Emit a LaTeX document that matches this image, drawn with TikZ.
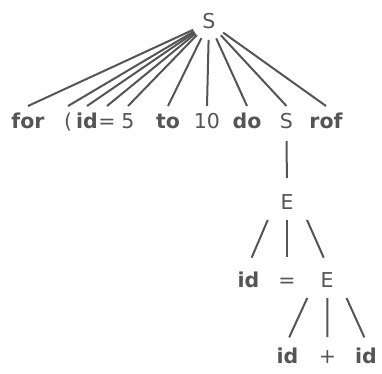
\documentclass[tikz,border=0pt]{standalone}
\usepackage{fontspec}
\setmainfont{DejaVu Sans}
\usetikzlibrary{calc}
\definecolor{treegray}{HTML}{555555}
\begin{document}
\begin{tikzpicture}[x=1pt,y=-1pt,color=treegray,line width=2pt,
    lbl/.style={font=\fontsize{20.5}{24}\selectfont,text height=15pt,text depth=4pt,inner sep=6pt,anchor=base},
    kw/.style={lbl,font=\fontsize{20.5}{24}\selectfont\bfseries},
    branch/.style={shorten >=8pt}]
            \useasboundingbox (0,0) rectangle (382,373);
            % root
            \node[lbl,circle,inner sep=3.5pt] (s0) at (209,28) {S};
            % first level
            \node[kw] (tfor) at (28,128) {for};
            \node[lbl] (tlp) at (68,128) {(};
            \node[kw] (tid) at (87,128) {id};
            \node[lbl] (teq) at (107,128) {=};
            \node[lbl] (tfive) at (128,128) {5};
            \node[kw] (tto) at (168,128) {to};
            \node[lbl] (tten) at (207,128) {10};
            \node[kw] (tdo) at (247,128) {do};
            \node[lbl] (s1) at (286.5,128) {S};
            \node[kw] (trof) at (326,128) {rof};
            \draw (s0) -- (tfor.north);
            \draw (s0) -- (tlp.north);
            \draw (s0) -- (tid.north);
            \draw (s0) -- (teq.north);
            \draw (s0) -- (tfive.north);
            \draw (s0) -- (tto.north);
            \draw (s0) -- (tten.north);
            \draw (s0) -- (tdo.north);
            \draw (s0) -- (s1.north);
            \draw (s0) -- (trof.north);
            % S -> E
            \node[lbl] (e1) at (287,209) {E};
            \draw[shorten <=2pt,shorten >=9pt] (s1.south) -- (e1.north);
            % E -> id = E
            \node[kw] (tid2) at (248.5,287) {id};
            \node[lbl] (teq2) at (287,287) {=};
            \node[lbl] (e2) at (327,287) {E};
            \draw[branch] ($(e1.south)!.5!(e1.south -| tid2)$) -- (tid2.north);
            \draw[branch] ($(e1.south)!.5!(e1.south -| teq2)$) -- (teq2.north);
            \draw[branch] ($(e1.south)!.5!(e1.south -| e2)$) -- (e2.north);
            % E -> id + id
            \node[kw] (tid3) at (287.5,363) {id};
            \node[lbl] (tplus) at (327.5,363) {+};
            \node[kw] (tid4) at (366,363) {id};
            \draw[shorten >=4pt] ($(e2.south)!.5!(e2.south -| tid3)$) -- (tid3.north);
            \draw[shorten >=4pt] ($(e2.south)!.5!(e2.south -| tplus)$) -- (tplus.north);
            \draw[shorten >=4pt] ($(e2.south)!.5!(e2.south -| tid4)$) -- (tid4.north);
        \end{tikzpicture}
\end{document}
